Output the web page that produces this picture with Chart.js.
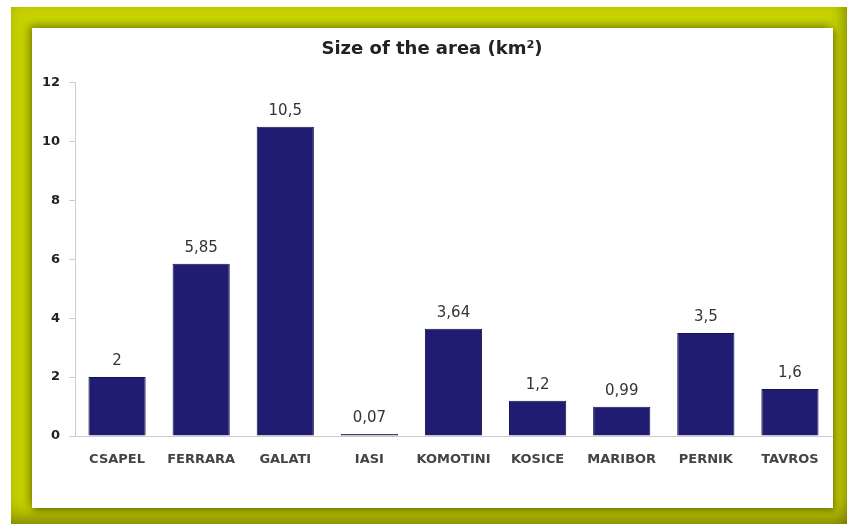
<!DOCTYPE html>
<html>
<head>
<meta charset="utf-8">
<script src="https://cdn.jsdelivr.net/npm/chart.js@4"></script>
<style>
  html, body { margin: 0; padding: 0; background: #fff; }
  body { width: 847px; height: 524px; position: relative; overflow: hidden; }
  #frame {
    position: absolute; left: 11px; top: 7px; width: 836px; height: 517px;
    background: #c8d400;
    box-shadow: inset 0 -14px 18px -6px rgba(80,80,0,0.55), inset -10px 0 14px -6px rgba(80,80,0,0.4);
  }
  #panel {
    position: absolute; left: 32px; top: 28px; width: 801px; height: 480px;
    background: #fff;
    box-shadow: -3px -3px 8px rgba(90,95,0,0.6), 2px 3px 6px rgba(60,60,0,0.5);
  }
</style>
</head>
<body>
<div id="frame"></div>
<div id="panel"><canvas id="myChart" width="801" height="480"></canvas></div>
<script>
// dane z wykresu
const cities = ['CSAPEL', 'FERRARA', 'GALATI', 'IASI', 'KOMOTINI', 'KOSICE', 'MARIBOR', 'PERNIK', 'TAVROS']
const areaKm2 = [2, 5.85, 10.5, 0.07, 3.64, 1.2, 0.99, 3.5, 1.6]
const yTicks = [0, 2, 4, 6, 8, 10, 12]

// napisy nad słupkami (przecinek dziesiętny)
const valueLabels = {
  id: 'valueLabels',
  afterDatasetsDraw(chart) {
    const ctx = chart.ctx
    const meta = chart.getDatasetMeta(0)
    ctx.save()
    ctx.font = '15px "DejaVu Sans"'
    ctx.fillStyle = '#333'
    ctx.textAlign = 'center'
    ctx.textBaseline = 'middle'
    meta.data.forEach((bar, i) => {
      const txt = String(areaKm2[i]).replace('.', ',')
      ctx.fillText(txt, bar.x, bar.y - 16)
    })
    ctx.restore()
  }
}

const ctx = document.getElementById('myChart')

new Chart(ctx, {
  type: 'bar',
  data: {
    labels: cities,
    datasets: [{
      data: areaKm2,
      backgroundColor: '#1f1c72',
      borderColor: '#15134f',
      borderWidth: 1,
      barPercentage: 0.68,
      categoryPercentage: 1
    }]
  },
  plugins: [valueLabels],
  options: {
    responsive: false,
    animation: false,
    layout: { padding: { left: 0, right: 1, top: 0, bottom: 0 } },
    plugins: {
      legend: { display: false },
      tooltip: { enabled: false },
      title: {
        display: true,
        text: 'Size of the area (km²)',
        color: '#222',
        font: { family: 'DejaVu Sans', size: 18, weight: 'bold' },
        padding: { top: 11, bottom: 22 }
      }
    },
    scales: {
      x: {
        grid: { display: false },
        border: { display: true, color: '#ccc', width: 1 },
        ticks: {
          color: '#444',
          padding: 8,
          font: { family: 'DejaVu Sans', size: 13, weight: 'bold' },
          maxRotation: 0
        },
        afterFit(scale) { scale.height = 72 }
      },
      y: {
        min: 0,
        max: 12,
        afterBuildTicks(scale) { scale.ticks = yTicks.map(v => ({ value: v })) },
        grid: { drawOnChartArea: false, tickLength: 6, color: '#ccc' },
        border: { display: true, color: '#ccc', width: 1 },
        ticks: {
          color: '#222',
          padding: 9,
          font: { family: 'DejaVu Sans', size: 13, weight: 'bold' }
        },
        afterFit(scale) { scale.width = 43 }
      }
    }
  }
})
</script>
</body>
</html>
